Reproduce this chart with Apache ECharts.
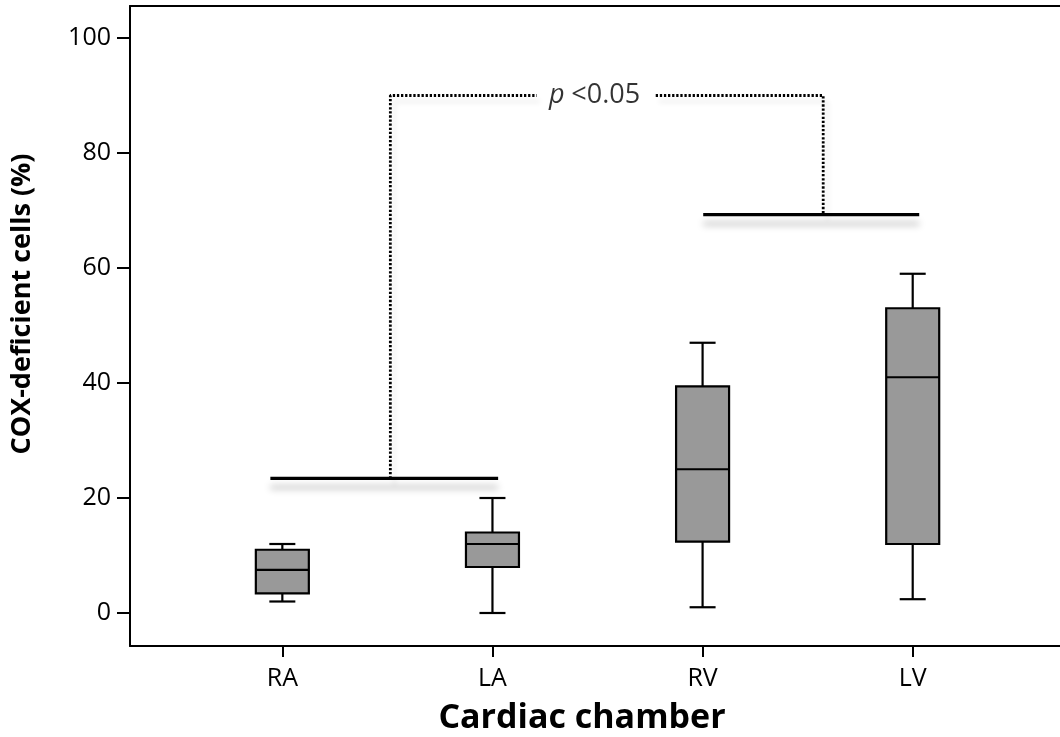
<!DOCTYPE html>
<html>
<head>
<meta charset="utf-8">
<script src="https://cdn.jsdelivr.net/npm/echarts@6/dist/echarts.min.js"></script>
<style>
  html, body { margin: 0; padding: 0; background: #ffffff; }
  #chart { width: 1060px; height: 737px; }
</style>
</head>
<body>
<div id="chart"></div>
<script>
// Box-plot summary per cardiac chamber (% COX-deficient cells)
const chambers = ['RA', 'LA', 'RV', 'LV'];
const chamberPos = [1, 2, 3, 4];
const whiskerLow = [2, 0, 1, 2.4];
const quartile1 = [3.4, 8, 12.4, 12];
const medians = [7.5, 12, 25, 41];
const quartile3 = [11, 14, 39.4, 53];
const whiskerHigh = [12, 20, 47, 59];
const yTicks = [0, 20, 40, 60, 80, 100];

// Group bars (atria / ventricles) and the comparison bracket joining them
const groupBarStart = [0.943, 3.003];
const groupBarEnd = [2.027, 4.031];
const groupBarLevel = [23.4, 69.3];
const bracketLeft = 1.514;
const bracketRight = 3.574;
const bracketTop = 90;
const bracketGap = [2.211, 2.777];
const bracketLabelPos = 2.486;

const FONT = '"Open Sans", "Noto Sans", sans-serif';
const INK = '#000000';

const boxData = chamberPos.map((x, i) => [x, whiskerLow[i], quartile1[i], medians[i], quartile3[i], whiskerHigh[i]]);

const barShadow = { shadowColor: 'rgba(0,0,0,0.28)', shadowBlur: 7, shadowOffsetY: 9 };
const dotShadow = { shadowColor: 'rgba(0,0,0,0.12)', shadowBlur: 5, shadowOffsetX: 4, shadowOffsetY: 6 };

const groupBarSeries = groupBarLevel.map((y, i) => ({
  type: 'line',
  data: [[groupBarStart[i], y], [groupBarEnd[i], y]],
  symbol: 'none',
  silent: true,
  z: 3,
  lineStyle: Object.assign({ color: '#000', width: 3.2, type: 'solid' }, barShadow)
}));

const dotted = Object.assign({ color: '#000', width: 2.8, type: [2.3, 1.8] }, dotShadow);

const chart = echarts.init(document.getElementById('chart'), null, { renderer: 'canvas' });
chart.setOption({
  animation: false,
  backgroundColor: '#ffffff',
  grid: { left: 130, right: 0, top: 6, bottom: 91, containLabel: false, outerBoundsMode: 'none' },
  xAxis: [
    {
      type: 'value',
      min: 0.275,
      max: 4.701,
      position: 'bottom',
      splitLine: { show: false },
      axisLine: { show: true, onZero: false, lineStyle: { color: '#000', width: 2 } },
      axisTick: { show: true, customValues: chamberPos, length: 11, lineStyle: { color: '#000', width: 2 } },
      axisLabel: {
        customValues: chamberPos,
        formatter: v => chambers[chamberPos.indexOf(v)] || '',
        color: INK, fontFamily: FONT, fontSize: 25, margin: 20
      },
      name: 'Cardiac chamber',
      nameLocation: 'middle',
      nameGap: 55,
      nameTextStyle: { color: '#000', fontFamily: FONT, fontSize: 34, fontWeight: 'bold', padding: [0, 26, 0, 0] }
    },
    {
      type: 'value',
      min: 0.275,
      max: 4.701,
      position: 'top',
      splitLine: { show: false },
      axisLine: { show: true, onZero: false, lineStyle: { color: '#000', width: 2 } },
      axisTick: { show: false },
      axisLabel: { show: false }
    }
  ],
  yAxis: {
    type: 'value',
    min: -5.74,
    max: 105.57,
    splitLine: { show: false },
    axisLine: { show: true, onZero: false, lineStyle: { color: '#000', width: 2 } },
    axisTick: { show: true, customValues: yTicks, length: 13, lineStyle: { color: '#000', width: 2 } },
    axisLabel: { customValues: yTicks, color: INK, fontFamily: FONT, fontSize: 25, margin: 19 },
    name: 'COX-deficient cells (%)',
    nameLocation: 'middle',
    nameGap: 94,
    nameTextStyle: { color: '#000', fontFamily: FONT, fontSize: 27, fontWeight: 'bold', padding: [0, 0, 0, 44] }
  },
  series: [
    {
      type: 'custom',
      data: boxData,
      z: 5,
      silent: true,
      renderItem: function (params, api) {
        const x = api.value(0);
        const lo = api.coord([x, api.value(1)]);
        const q1 = api.coord([x, api.value(2)]);
        const md = api.coord([x, api.value(3)]);
        const q3 = api.coord([x, api.value(4)]);
        const hi = api.coord([x, api.value(5)]);
        const cx = lo[0];
        const hw = 26.5, cw = 13;
        const ln = { stroke: '#000', lineWidth: 2.2 };
        return {
          type: 'group',
          children: [
            { type: 'line', shape: { x1: cx, y1: hi[1], x2: cx, y2: q3[1] }, style: ln },
            { type: 'line', shape: { x1: cx, y1: q1[1], x2: cx, y2: lo[1] }, style: ln },
            { type: 'line', shape: { x1: cx - cw, y1: hi[1], x2: cx + cw, y2: hi[1] }, style: ln },
            { type: 'line', shape: { x1: cx - cw, y1: lo[1], x2: cx + cw, y2: lo[1] }, style: ln },
            { type: 'rect', shape: { x: cx - hw, y: q3[1], width: 2 * hw, height: q1[1] - q3[1] },
              style: { fill: '#999999', stroke: '#000', lineWidth: 2.2 } },
            { type: 'line', shape: { x1: cx - hw, y1: md[1], x2: cx + hw, y2: md[1] }, style: ln }
          ]
        };
      }
    },
    ...groupBarSeries,
    {
      type: 'line',
      data: [[bracketLeft, groupBarLevel[0]], [bracketLeft, bracketTop], [bracketGap[0], bracketTop]],
      symbol: 'none', silent: true, z: 2,
      lineStyle: dotted
    },
    {
      type: 'line',
      data: [[bracketGap[1], bracketTop], [bracketRight, bracketTop], [bracketRight, groupBarLevel[1]]],
      symbol: 'none', silent: true, z: 2,
      lineStyle: dotted
    },
    {
      type: 'scatter',
      data: [[bracketLabelPos, bracketTop]],
      symbolSize: 0,
      silent: true,
      z: 6,
      label: {
        show: true,
        position: 'inside',
        formatter: '{p|p}  {t|<0.05}',
        rich: {
          p: { fontFamily: FONT, fontSize: 27, fontStyle: 'italic', color: INK },
          t: { fontFamily: FONT, fontSize: 27, color: INK }
        }
      }
    }
  ]
});
</script>
</body>
</html>
